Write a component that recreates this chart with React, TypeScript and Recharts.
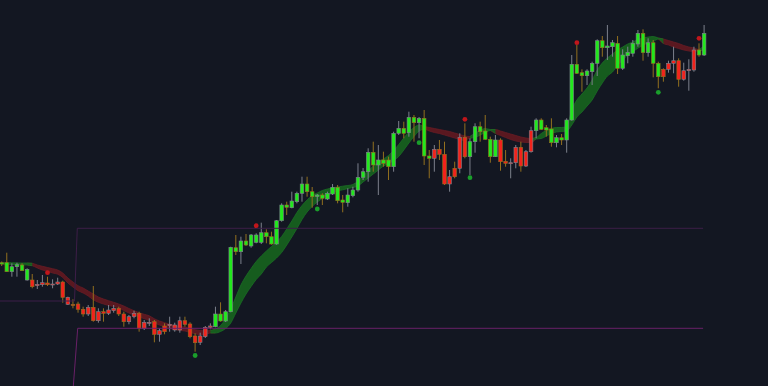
import React from 'react';
import { ComposedChart, XAxis, YAxis, Bar, Area, Line, Scatter } from 'recharts';

const open = [136.0,128.3,128.3,133.3,129.3,120.0,120.0,115.7,117.3,117.0,
116.0,118.0,118.0,102.7,95.5,96.0,90.7,92.7,92.7,88.3,
88.3,90.0,91.7,91.7,86.0,83.3,86.7,86.7,77.7,77.7,
78.3,69.3,74.0,75.7,75.0,79.3,79.3,76.0,64.0,64.0,
72.7,74.0,73.3,79.0,79.0,88.3,148.3,148.3,155.0,154.0,
157.7,157.7,163.3,156.0,156.0,179.3,192.7,192.3,198.3,206.7,
208.3,203.3,203.5,201.7,201.0,206.0,199.3,197.7,197.3,204.3,
210.0,222.7,228.3,235.0,235.0,236.7,233.3,233.3,266.7,266.7,
267.3,277.3,277.3,244.0,241.7,250.7,250.7,245.7,223.3,231.7,
262.7,262.7,243.3,258.3,268.3,260.7,243.3,243.3,260.0,238.7,
237.3,252.7,252.7,248.3,269.3,269.3,270.7,270.0,257.3,257.3,
260.0,260.0,280.0,326.7,324.3,324.3,328.3,336.7,352.3,352.3,
353.3,331.7,331.7,344.3,346.7,356.0,347.3,347.3,336.7,323.3,
330.7,336.7,339.3,339.3,329.3,330.7,350.0,345.0,345.0];

const high = [138.5,147.3,136.7,137.3,136.7,131.7,126.0,120.0,125.0,123.3,
120.7,122.3,119.3,103.3,100.7,98.3,93.3,95.0,114.0,91.7,
91.7,95.0,95.0,93.3,88.3,85.0,89.3,88.3,80.0,81.7,
80.0,71.7,76.7,83.3,77.3,83.3,83.3,77.7,66.7,67.3,
74.0,76.7,93.3,97.7,90.0,153.3,165.0,163.3,166.0,166.0,
166.7,177.3,170.7,168.3,180.0,196.7,198.3,208.3,208.3,223.3,
223.3,213.0,206.0,206.7,208.3,216.0,215.0,205.0,211.7,213.3,
236.7,232.0,251.7,258.3,255.0,248.3,243.3,268.3,279.0,278.3,
288.3,285.0,283.0,290.0,250.0,255.0,260.0,258.3,230.0,238.3,
266.7,276.7,261.7,276.7,278.3,285.0,263.3,265.0,261.7,250.0,
241.7,255.0,258.3,250.0,273.3,281.7,281.7,275.0,281.7,265.0,
266.0,281.7,345.0,355.0,330.7,330.7,338.3,360.7,364.0,375.0,
360.0,364.0,350.7,353.3,360.0,370.0,370.7,361.7,360.0,338.3,
331.7,339.3,353.3,341.7,337.3,340.7,353.3,356.7,375.0];

const low = [134.0,128.0,123.3,123.3,129.0,119.3,111.7,111.0,113.3,114.0,
111.7,115.0,97.3,95.0,91.7,87.3,83.3,84.0,78.3,77.3,
78.3,85.0,87.3,84.0,73.3,75.7,81.7,68.3,70.0,74.0,
57.7,58.3,65.7,68.3,68.3,67.3,73.3,61.7,48.3,55.0,
62.0,70.7,72.7,78.3,78.0,87.7,145.0,136.0,154.0,152.3,
156.7,156.0,156.7,155.3,155.3,178.3,185.0,191.7,196.7,198.3,
203.3,192.3,195.0,195.0,200.0,205.0,196.7,187.7,193.3,202.7,
208.3,220.0,218.3,228.3,205.0,233.3,220.0,228.3,265.0,261.7,
263.3,258.3,261.7,235.0,221.7,228.3,240.0,215.0,208.3,221.7,
226.7,241.7,225.0,247.3,258.3,260.0,237.3,243.0,229.3,233.3,
221.7,231.7,228.3,233.0,247.3,261.7,270.0,263.3,253.3,252.7,
255.0,247.3,279.3,326.0,308.3,315.0,315.0,324.0,343.3,340.0,
343.3,326.0,330.0,336.7,343.3,353.3,339.3,343.3,322.7,311.7,
318.3,327.3,326.7,313.3,319.3,309.3,328.3,343.3,344.0];

const close = [137.3,137.3,133.3,135.3,135.0,130.7,113.3,114.3,115.3,115.3,
115.3,116.0,102.7,95.7,94.5,90.7,86.0,86.0,79.3,79.3,
86.7,86.7,89.3,86.0,78.3,78.3,83.3,71.7,71.7,76.7,
65.7,65.7,68.3,74.3,70.0,70.0,75.7,63.3,57.3,57.7,
63.3,72.7,86.0,86.0,88.3,152.7,152.3,159.0,159.0,165.0,
165.0,167.3,167.3,163.3,179.3,195.0,195.0,199.0,206.7,216.0,
216.0,208.3,205.0,205.0,206.7,212.7,212.7,200.0,205.0,210.0,
222.7,228.3,247.7,247.7,240.0,240.0,240.0,266.7,271.7,271.7,
282.7,282.7,281.7,281.7,244.0,241.7,245.7,216.0,216.0,223.3,
231.7,243.3,258.3,273.3,273.3,269.0,260.7,260.0,238.3,236.7,
236.7,237.3,234.0,234.0,248.3,280.0,280.0,272.3,271.0,262.3,
262.3,280.0,335.7,335.7,327.3,329.0,336.7,359.3,359.3,354.0,
357.3,356.7,345.0,347.7,356.7,366.7,366.7,357.3,357.3,336.7,
323.3,330.7,336.7,320.7,320.7,329.3,330.0,350.0,366.7];

// 1 = highlighted (gold) wick/border signal, 0 = normal
const volumeFlag = [1,1,0,0,1,0,1,0,0,1,
0,0,1,0,1,1,1,0,1,0,
1,0,0,1,1,0,0,1,0,0,
1,0,1,0,0,0,1,1,1,0,
0,0,0,1,0,0,1,0,1,0,
0,0,1,1,0,0,1,0,0,0,
1,1,0,1,0,0,1,1,0,0,
0,0,0,1,0,1,1,0,0,1,
0,1,0,1,1,0,1,1,0,1,
0,1,0,0,1,1,1,0,1,1,
0,0,1,0,0,0,1,1,1,0,
1,0,0,1,1,0,0,0,1,0,
0,1,0,0,0,0,1,0,1,1,
1,0,0,1,0,0,0,1,0];

const emaFast = [137.3,137.3,137.2,137.0,137.0,137.0,134.3,132.0,130.0,128.8,
127.0,125.8,122.5,117.0,113.0,109.3,107.0,104.0,100.2,97.7,
96.0,94.5,93.5,92.0,89.5,87.0,85.0,83.0,81.3,79.7,
77.0,75.0,73.3,71.7,70.5,69.5,69.0,67.5,66.3,65.3,
65.5,67.0,71.0,74.5,81.5,91.0,103.0,115.0,124.0,131.5,
138.5,144.0,149.0,153.5,158.0,163.5,171.0,179.0,187.5,194.5,
200.0,204.5,207.0,209.5,211.0,212.0,213.0,213.8,214.5,215.5,
219.0,224.0,229.0,234.0,238.0,241.0,244.5,249.5,255.5,262.0,
268.0,272.5,275.0,271.0,269.0,267.5,266.5,265.0,263.5,262.0,
260.5,259.5,262.0,267.0,269.5,271.5,270.5,266.5,264.5,262.5,
260.5,259.0,258.0,257.5,257.5,262.5,266.5,269.5,271.5,272.5,
272.5,273.5,290.0,300.0,306.0,312.0,320.0,330.0,337.0,342.0,
346.0,350.0,353.0,356.0,358.0,360.5,362.0,363.0,363.5,362.0,
356.5,355.0,353.0,351.5,350.0,349.0,348.5,349.5,354.0];

const emaSlow = [135.7,135.7,135.5,135.5,135.2,135.0,136.7,135.0,133.7,132.5,
131.3,130.0,127.0,122.0,118.0,114.3,112.0,109.0,106.0,103.0,
101.0,99.3,97.7,96.0,94.0,91.5,89.3,87.3,85.7,84.2,
81.2,79.0,77.3,75.7,74.5,73.5,73.0,71.5,70.3,69.5,
69.2,69.5,67.0,68.5,71.5,77.0,87.0,97.0,106.0,113.5,
120.5,126.0,133.0,137.5,142.0,147.5,155.0,163.0,171.5,180.5,
188.0,193.5,198.0,201.5,205.0,207.0,209.0,210.2,211.5,212.5,
214.0,218.0,222.0,226.0,230.0,234.0,236.5,239.5,243.5,250.0,
257.0,263.5,269.0,273.5,272.5,271.5,270.5,269.5,268.5,267.0,
265.5,264.0,263.5,262.5,265.0,267.5,269.5,270.5,269.0,267.5,
266.0,264.5,263.0,262.0,261.5,261.0,261.5,264.0,266.5,268.0,
268.5,269.0,275.0,283.0,288.0,294.0,300.0,309.0,317.0,324.0,
328.0,335.0,340.0,345.0,348.0,352.0,354.5,357.5,358.5,361.0,
361.0,359.5,358.0,356.5,354.5,353.0,352.0,350.5,350.0];

// signal markers: [candle index, price]
const sellSignals = [[9, 127.3], [50, 174.3], [91, 280.7], [113, 357.3], [137, 361.7]];
const buySignals = [[38, 44.5], [62, 191.0], [82, 257.3], [92, 222.3], [129, 307.7]];

// level lines: [candle index, price]
const upperLevel = [[-0.4, 99.0], [14.3, 99.0], [14.85, 171.7], [137.8, 171.7]];
const lowerLevel = [[14.07, 14.0], [14.93, 71.7], [137.8, 71.7]];

const BG = '#131722';
const GREEN = '#22e81d';
const RED = '#f2231c';
const GRAY = '#7c808c';
const GOLD = '#93701f';

const isGreen = (i: number) => i >= 0 && i < emaFast.length && emaFast[i] >= emaSlow[i];
const isRed = (i: number) => i >= 0 && i < emaFast.length && emaFast[i] < emaSlow[i];

const data = open.map((o, i) => {
  const lo = Math.min(emaFast[i], emaSlow[i]);
  const hi = Math.max(emaFast[i], emaSlow[i]);
  return {
    i,
    open: o,
    high: high[i],
    low: low[i],
    close: close[i],
    flag: volumeFlag[i],
    range: [low[i], high[i]],
    greenBand: isGreen(i) || isGreen(i - 1) || isGreen(i + 1) ? [lo, hi] : null,
    redBand: isRed(i) || isRed(i - 1) || isRed(i + 1) ? [lo, hi] : null,
  };
});

const sellData = sellSignals.map(([i, v]) => ({ i, v }));
const buyData = buySignals.map(([i, v]) => ({ i, v }));
const upperData = upperLevel.map(([i, v]) => ({ i, v }));
const lowerData = lowerLevel.map(([i, v]) => ({ i, v }));

const Candle = (props: any) => {
  const { x, y, width, height, payload } = props;
  if (!payload || height == null || isNaN(y)) return <g />;
  const { open: o, high: h, low: l, close: c, flag } = payload;
  const cx = x + width / 2;
  const span = h - l || 1;
  const py = (v: number) => y + ((h - v) / span) * height;
  const up = c >= o;
  const top = py(Math.max(o, c));
  const bot = py(Math.min(o, c));
  const bh = Math.max(bot - top, 1);
  const edge = flag ? GOLD : GRAY;
  return (
    <g>
      <line x1={cx} x2={cx} y1={y} y2={y + height} stroke={edge} strokeWidth={1} />
      <rect x={cx - 1.8} y={top} width={3.6} height={bh} fill={up ? GREEN : RED} stroke={edge} strokeWidth={0.6} />
    </g>
  );
};

const SellDot = (p: any) => <circle cx={p.cx} cy={p.cy} r={2.4} fill="#c0161b" />;
const BuyDot = (p: any) => <circle cx={p.cx} cy={p.cy} r={2.4} fill="#1a9e2b" />;

export default function App() {
  return (
    <div style={{ position: 'absolute', left: 0, top: 0, width: 768, height: 386, background: BG, overflow: 'hidden', fontSize: 0, color: BG }}>
      <ComposedChart width={768} height={386} data={data} margin={{ top: 0, right: 0, bottom: 0, left: 0 }} accessibilityLayer={false}>
        <XAxis dataKey="i" type="number" domain={[-0.334, 150.55]} allowDataOverflow hide />
        <YAxis type="number" domain={[14, 400]} allowDataOverflow hide />
        <Line data={upperData} dataKey="v" type="linear" stroke="#3d1e48" strokeWidth={1} dot={false} activeDot={false} isAnimationActive={false} />
        <Line data={lowerData} dataKey="v" type="linear" stroke="#6a2168" strokeWidth={1} dot={false} activeDot={false} isAnimationActive={false} />
        <Area dataKey="redBand" type="monotone" fill="#5a1820" fillOpacity={1} stroke="#681c24" strokeWidth={0.8} activeDot={false} dot={false} isAnimationActive={false} />
        <Area dataKey="greenBand" type="monotone" fill="#165c1e" fillOpacity={1} stroke="#1b6e24" strokeWidth={0.8} activeDot={false} dot={false} isAnimationActive={false} />
        <Bar dataKey="range" barSize={5} shape={<Candle />} isAnimationActive={false} />
        <Scatter data={sellData} dataKey="v" shape={<SellDot />} isAnimationActive={false} />
        <Scatter data={buyData} dataKey="v" shape={<BuyDot />} isAnimationActive={false} />
      </ComposedChart>
    </div>
  );
}
